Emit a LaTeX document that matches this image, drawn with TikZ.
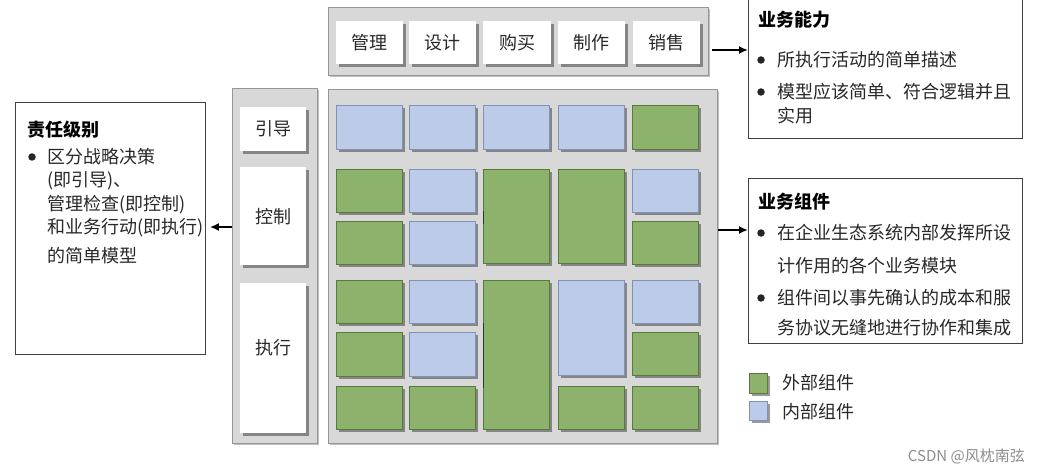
\documentclass[tikz,border=0pt]{standalone}
\usepackage{fontspec}
\setmainfont{Noto Sans CJK SC}
\usetikzlibrary{shadows,arrows.meta}
\definecolor{cg}{RGB}{141,178,108}
\definecolor{cgb}{RGB}{88,120,62}
\definecolor{cb}{RGB}{188,204,232}
\definecolor{cbb}{RGB}{128,146,184}
\definecolor{panelc}{RGB}{216,216,216}
\definecolor{paneli}{RGB}{228,228,228}
\definecolor{paneld}{RGB}{150,150,150}
\definecolor{txtc}{RGB}{40,40,40}
\tikzset{
  panel/.style={draw=paneld, fill=panelc, line width=0.8pt, anchor=north west, inner sep=0, drop shadow={shadow xshift=1.5pt, shadow yshift=-1.5pt, fill=black, opacity=0.25}},
  shad/.style={drop shadow={shadow xshift=2.5pt, shadow yshift=-2.5pt, fill=black!80, opacity=0.5}},
  cellg/.style={draw=cgb, fill=cg, line width=0.7pt, anchor=north west, inner sep=0, shad},
  cellb/.style={draw=cbb, fill=cb, line width=0.7pt, anchor=north west, inner sep=0, shad},
  btn/.style={fill=white, anchor=north west, inner sep=0, shad, text=txtc, font=\fontsize{18}{20}\selectfont},
  infobox/.style={draw=black!75, line width=0.9pt, fill=white, anchor=north west, inner sep=0},
  txt/.style={anchor=west, inner sep=0, text=txtc, font=\fontsize{18}{20}\selectfont},
  ttl/.style={anchor=west, inner sep=0, text=black, font=\fontsize{18}{20}\selectfont\bfseries},
  bul/.style={circle, fill=black!85, inner sep=0, minimum size=7.5pt},
  arr/.style={line width=2pt, -{Latex[length=9pt,width=8pt]}},
}
\newcommand{\cellat}[6]{\node[#1, minimum width=#4pt, minimum height=#5pt] (#6) at (#2,#3) {};}
\begin{document}
\begin{tikzpicture}[x=1pt,y=-1pt]
\useasboundingbox (0,0) rectangle (1040,473);
% panels
\node[panel, minimum width=380pt, minimum height=68pt] (toppanel) at (328,7) {};
\node[panel, minimum width=85pt, minimum height=355pt] (levelcol) at (232,88) {};
\node[panel, minimum width=389pt, minimum height=354pt] (grid) at (328,89) {};
% top buttons
\node[btn, minimum width=67pt, minimum height=43pt] (b1) at (336,21) {管理};
\node[btn, minimum width=67pt, minimum height=43pt] (b2) at (409,21) {设计};
\node[btn, minimum width=68pt, minimum height=43pt] (b3) at (483,21) {购买};
\node[btn, minimum width=67pt, minimum height=43pt] (b4) at (558,21) {制作};
\node[btn, minimum width=67pt, minimum height=43pt] (b5) at (633,21) {销售};
% level buttons
\node[btn, minimum width=66pt, minimum height=44pt] (l1) at (240,107) {引导};
\node[btn, minimum width=66pt, minimum height=98pt] (l2) at (240,167) {控制};
\node[btn, minimum width=66pt, minimum height=150pt] (l3) at (240,283) {};
\node[txt, anchor=center] (l3t) at ([yshift=11pt]l3.center) {执行};
% grid cells row 1
\cellat{cellb}{336}{105}{66}{44}{r1c1}
\cellat{cellb}{409}{105}{66}{44}{r1c2}
\cellat{cellb}{483}{105}{66}{44}{r1c3}
\cellat{cellb}{558}{105}{66}{44}{r1c4}
\cellat{cellg}{632}{105}{66}{44}{r1c5}
% rows 2-3
\cellat{cellg}{336}{169}{66}{43}{r2c1}
\cellat{cellb}{409}{169}{66}{43}{r2c2}
\cellat{cellg}{483}{169}{66}{94}{r2c3}
\cellat{cellg}{558}{169}{66}{94}{r2c4}
\cellat{cellb}{632}{169}{66}{43}{r2c5}
\cellat{cellg}{336}{221}{66}{43}{r3c1}
\cellat{cellb}{409}{221}{66}{43}{r3c2}
\cellat{cellg}{632}{221}{66}{43}{r3c5}
% rows 4-6
\cellat{cellg}{336}{280}{66}{43}{r4c1}
\cellat{cellb}{409}{280}{66}{43}{r4c2}
\cellat{cellg}{483}{280}{66}{149}{r4c3}
\cellat{cellb}{558}{280}{66}{95}{r4c4}
\cellat{cellb}{632}{280}{66}{43}{r4c5}
\cellat{cellg}{336}{332}{66}{44}{r5c1}
\cellat{cellb}{409}{332}{66}{44}{r5c2}
\cellat{cellg}{632}{332}{66}{43}{r5c5}
\cellat{cellg}{336}{386}{66}{43}{r6c1}
\cellat{cellg}{409}{386}{66}{43}{r6c2}
\cellat{cellg}{558}{386}{66}{43}{r6c4}
\cellat{cellg}{632}{386}{66}{43}{r6c5}
% dark edge marks
\draw[line width=1pt, black!80] ([yshift=-42pt]r2c3.north west) -- ([yshift=-55pt]r2c3.north west);
\draw[line width=1pt, black!80] ([yshift=-43pt]r4c3.north west) -- ([yshift=-108pt]r4c3.north west);
% info boxes
\node[infobox, minimum width=274pt, minimum height=140pt] (cap) at (748,-2) {};
\node[infobox, minimum width=274pt, minimum height=165pt] (comp) at (748,178) {};
\node[infobox, minimum width=190pt, minimum height=252pt] (level) at (15,102) {};
% cap text
\node[ttl] (capt) at (758,20) {业务能力};
\node[bul] (capb1) at (761,60) {};
\node[txt] (capl1) at (777,60) {所执行活动的简单描述};
\node[bul] (capb2) at (761,92) {};
\node[txt] (capl2) at (777,92) {模型应该简单、符合逻辑并且};
\node[txt] (capl3) at (777,116) {实用};
% comp text
\node[ttl] (compt) at (758,202) {业务组件};
\node[bul] (compb1) at (761,233) {};
\node[txt] (compl1) at (777,233) {在企业生态系统内部发挥所设};
\node[txt] (compl2) at (777,266) {计作用的各个业务模块};
\node[bul] (compb2) at (761,298) {};
\node[txt] (compl3) at (777,298) {组件间以事先确认的成本和服};
\node[txt] (compl4) at (777,328) {务协议无缝地进行协作和集成};
% level text
\node[ttl] (levt) at (27,130) {责任级别};
\node[bul] (levb1) at (32,157) {};
\node[txt] (levl1) at (47,157) {区分战略决策};
\node[txt] (levl2) at (47,181) {(即引导)、};
\node[txt] (levl3) at (47,205) {管理检查(即控制)};
\node[txt] (levl4) at (47,228) {和业务行动(即执行)};
\node[txt] (levl5) at (47,256) {的简单模型};
% legend
\node[cellg, minimum width=18pt, minimum height=20pt] (lg) at (749,373) {};
\node[cellb, minimum width=18pt, minimum height=19pt] (lb) at (749,401) {};
\node[txt] (lgt) at (782,383) {外部组件};
\node[txt] (lbt) at (782,412) {内部组件};
% watermark
\node[anchor=east, inner sep=0, text=black!45, font=\fontsize{15}{18}\selectfont] (wm) at (1025,456) {CSDN @风枕南弦};
% arrows
\draw[arr] ([xshift=3pt]toppanel.east |- 0,50) -- (cap.west |- 0,50);
\draw[arr] (grid.east |- 0,230) -- (comp.west |- 0,230);
\draw[arr] (levelcol.west |- 0,227) -- ([xshift=4pt]level.east |- 0,227);
\end{tikzpicture}
\end{document}
